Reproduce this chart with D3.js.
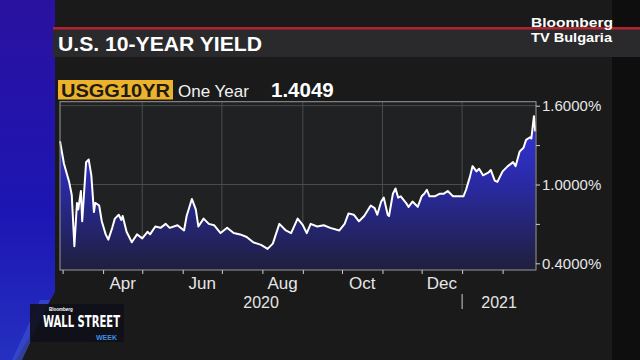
<!DOCTYPE html>
<html><head><meta charset="utf-8">
<script src="https://cdn.jsdelivr.net/npm/d3@7"></script>
<style>html,body{margin:0;padding:0;background:#191919;}svg{display:block;}</style>
</head><body>
<svg id="c" width="640" height="360"></svg>
<script>
const dates = ["2020-02-28","2020-03-02","2020-03-04","2020-03-06","2020-03-08","2020-03-10","2020-03-12","2020-03-13","2020-03-15","2020-03-16","2020-03-19","2020-03-21","2020-03-23","2020-03-25","2020-03-26","2020-03-29","2020-03-31","2020-04-03","2020-04-05","2020-04-08","2020-04-10","2020-04-13","2020-04-15","2020-04-16","2020-04-19","2020-04-23","2020-04-27","2020-05-01","2020-05-05","2020-05-07","2020-05-11","2020-05-15","2020-05-19","2020-05-22","2020-05-28","2020-06-02","2020-06-04","2020-06-08","2020-06-11","2020-06-13","2020-06-17","2020-06-21","2020-06-25","2020-06-30","2020-07-05","2020-07-10","2020-07-15","2020-07-20","2020-07-25","2020-07-31","2020-08-05","2020-08-09","2020-08-14","2020-08-19","2020-08-23","2020-08-28","2020-09-01","2020-09-04","2020-09-07","2020-09-12","2020-09-17","2020-09-22","2020-09-29","2020-10-03","2020-10-06","2020-10-10","2020-10-14","2020-10-18","2020-10-23","2020-10-26","2020-10-28","2020-10-31","2020-11-02","2020-11-05","2020-11-06","2020-11-09","2020-11-11","2020-11-13","2020-11-15","2020-11-19","2020-11-21","2020-11-24","2020-11-28","2020-12-01","2020-12-03","2020-12-05","2020-12-07","2020-12-11","2020-12-15","2020-12-18","2020-12-21","2020-12-25","2020-12-29","2021-01-02","2021-01-04","2021-01-07","2021-01-09","2021-01-12","2021-01-14","2021-01-17","2021-01-21","2021-01-23","2021-01-26","2021-01-28","2021-02-01","2021-02-05","2021-02-09","2021-02-11","2021-02-14","2021-02-17","2021-02-19","2021-02-22","2021-02-23","2021-02-25","2021-02-26"];
const yields = [1.33,1.16,1.09,1.02,0.92,0.53,0.86,0.81,0.95,0.72,1.17,1.19,1.07,0.79,0.86,0.84,0.72,0.62,0.58,0.67,0.74,0.77,0.73,0.76,0.64,0.56,0.62,0.59,0.64,0.62,0.68,0.67,0.70,0.67,0.69,0.65,0.76,0.89,0.81,0.68,0.74,0.70,0.69,0.63,0.67,0.63,0.62,0.60,0.56,0.54,0.51,0.55,0.70,0.65,0.63,0.74,0.69,0.63,0.70,0.68,0.69,0.67,0.65,0.70,0.78,0.77,0.72,0.76,0.84,0.82,0.77,0.87,0.90,0.77,0.76,0.93,0.97,0.90,0.91,0.86,0.83,0.87,0.83,0.91,0.93,0.96,0.91,0.91,0.93,0.93,0.95,0.91,0.91,0.91,0.96,1.06,1.14,1.10,1.12,1.07,1.09,1.11,1.03,1.02,1.10,1.14,1.17,1.14,1.25,1.28,1.34,1.36,1.35,1.52,1.4049];
const yTicks = [0.4, 0.7, 1.0, 1.3, 1.6];
const yLabelTicks = [0.4, 1.0, 1.6];
const monthLabels = ["Apr","Jun","Aug","Oct","Dec"];
const labelMonths = ["2020-04-01","2020-06-01","2020-08-01","2020-10-01","2020-12-01"];
const gridMonths = ["2020-05-01","2020-07-01","2020-09-01","2020-11-01","2021-01-01"];
const years = ["2020","2021"];
const title = "U.S. 10-YEAR YIELD";
const ticker = "USGG10YR", period = "One Year", lastValue = "1.4049";

const parse = d3.timeParse("%Y-%m-%d");
const data = dates.map((d,i)=>({date: parse(d), v: yields[i]}));

const svg = d3.select("#c");
const defs = svg.append("defs");
const FONT = "Liberation Sans, Arial, sans-serif";

// Background panels
svg.append("rect").attr("x",0).attr("y",0).attr("width",640).attr("height",360).attr("fill","#1a1a1a");
svg.append("rect").attr("x",612).attr("y",0).attr("width",28).attr("height",360).attr("fill","#0e0e0e");
const bg = defs.append("linearGradient").attr("id","blueStrip").attr("x1",0).attr("y1",0).attr("x2",0).attr("y2",1);
bg.append("stop").attr("offset","0%").attr("stop-color","#2a12a0");
bg.append("stop").attr("offset","60%").attr("stop-color","#1d16b4");
bg.append("stop").attr("offset","100%").attr("stop-color","#2530c0");
svg.append("polygon").attr("points","0,0 55,0 55,292 16,360 0,360").attr("fill","url(#blueStrip)");
svg.append("polygon").attr("points","40,300 50,300 22,360 12,360").attr("fill","#3a4ed0").attr("opacity",0.7);

// Title bar
svg.append("rect").attr("x",53).attr("y",28).attr("width",587).attr("height",29).attr("fill","#2a2a2c");
svg.append("rect").attr("x",53).attr("y",27).attr("width",587).attr("height",2.5).attr("fill","#b3222e");
svg.append("text").attr("x",58).attr("y",51).attr("fill","#ffffff")
  .attr("font-family",FONT).attr("font-weight","bold").attr("font-size",20)
  .attr("textLength",204).attr("lengthAdjust","spacingAndGlyphs").text(title);

// Logo
svg.append("text").attr("x",531).attr("y",27).attr("fill","#ffffff")
  .attr("font-family",FONT).attr("font-weight","bold").attr("font-size",13.5)
  .attr("textLength",82).attr("lengthAdjust","spacingAndGlyphs").text("Bloomberg");
svg.append("text").attr("x",531).attr("y",42).attr("fill","#ffffff")
  .attr("font-family",FONT).attr("font-weight","bold").attr("font-size",13.5)
  .attr("textLength",81).attr("lengthAdjust","spacingAndGlyphs").text("TV Bulgaria");

// Legend row
svg.append("rect").attr("x",58).attr("y",80).attr("width",115).attr("height",19.5).attr("fill","#ecb22c");
svg.append("text").attr("x",61).attr("y",97).attr("fill","#1e1a14")
  .attr("font-family",FONT).attr("font-weight","bold").attr("font-size",19)
  .attr("textLength",109).attr("lengthAdjust","spacingAndGlyphs").text(ticker);
svg.append("text").attr("x",178).attr("y",97).attr("fill","#f2f2f2")
  .attr("font-family",FONT).attr("font-size",17).text(period);
svg.append("text").attr("x",271).attr("y",97).attr("fill","#ffffff")
  .attr("font-family",FONT).attr("font-weight","bold").attr("font-size",20.5).text(lastValue);

// Scales
const plotL = 60, plotR = 536, plotT = 101.7, plotB = 270;
const x = d3.scaleTime().domain([parse("2020-02-28"), new Date(2021,1,26,14)]).range([plotL, plotR]);
const y = d3.scaleLinear().domain([0.4, 1.6]).range([263.3, 105.7]);

svg.append("rect").attr("x",plotL).attr("y",plotT).attr("width",plotR-plotL).attr("height",plotB-plotT).attr("fill","#202122");

// Gridlines
const grid = svg.append("g");
grid.selectAll("line.v").data(gridMonths.map(parse)).join("line")
  .attr("x1",d=>x(d)).attr("x2",d=>x(d)).attr("y1",plotT).attr("y2",plotB)
  .attr("stroke","#4b4c4e").attr("stroke-width",1);
grid.selectAll("line.h").data(yLabelTicks).join("line")
  .attr("x1",plotL).attr("x2",plotR).attr("y1",d=>y(d)).attr("y2",d=>y(d))
  .attr("stroke","#4b4c4e").attr("stroke-width",1);

// Area + line
const grad = defs.append("linearGradient").attr("id","areaGrad").attr("gradientUnits","userSpaceOnUse")
  .attr("x1",0).attr("y1",110).attr("x2",0).attr("y2",plotB);
grad.append("stop").attr("offset","0%").attr("stop-color","#3434e6");
grad.append("stop").attr("offset","45%").attr("stop-color","#2a2aa6");
grad.append("stop").attr("offset","100%").attr("stop-color","#1f1f3c");
const area = d3.area().x(d=>x(d.date)).y0(plotB).y1(d=>y(d.v));
const line = d3.line().x(d=>x(d.date)).y(d=>y(d.v));
svg.append("path").datum(data).attr("d",area).attr("fill","url(#areaGrad)");
svg.append("path").datum(data).attr("d",line).attr("fill","none").attr("stroke","#ffffff")
  .attr("stroke-width",2).attr("stroke-linejoin","round");

// Frame
svg.append("rect").attr("x",plotL).attr("y",plotT).attr("width",plotR-plotL).attr("height",plotB-plotT)
  .attr("fill","none").attr("stroke","#9a9a9a").attr("stroke-width",1);

// Right y axis
const yAxis = d3.axisRight(y).tickValues(yTicks).tickSize(4).tickPadding(2)
  .tickFormat(d => yLabelTicks.some(t=>Math.abs(t-d)<1e-9) ? d3.format(".4f")(d)+"%" : "");
const ya = svg.append("g").attr("transform",`translate(${plotR},0)`).call(yAxis);
ya.select(".domain").remove();
ya.selectAll("line").attr("stroke","#cfcfcf");
ya.selectAll("text").attr("fill","#e6e6e6").attr("font-size",15).attr("font-family",FONT);

// Bottom x axis (monthly ticks)
const months = d3.timeMonth.range(parse("2020-03-01"), parse("2021-03-01"));
const xAxis = d3.axisBottom(x).tickValues(months).tickSize(4).tickFormat("");
const xa = svg.append("g").attr("transform",`translate(0,${plotB})`).call(xAxis);
xa.select(".domain").remove();
xa.selectAll("line").attr("stroke","#cfcfcf");

// Month labels centered in month
svg.selectAll("text.month").data(labelMonths.map(parse)).join("text")
  .attr("x",d=>(x(d)+x(d3.timeMonth.offset(d,1)))/2).attr("y",289)
  .attr("text-anchor","middle").attr("fill","#e6e6e6").attr("font-size",17)
  .attr("font-family",FONT).text((d,i)=>monthLabels[i]);

// Year labels
const jan = parse("2021-01-01");
const yearPos = [(plotL + x(jan))/2, (x(jan)+plotR)/2];
svg.selectAll("text.year").data(years).join("text")
  .attr("x",(d,i)=>yearPos[i]).attr("y",308).attr("text-anchor","middle")
  .attr("fill","#e6e6e6").attr("font-size",16).attr("font-family",FONT).text(d=>d);
svg.append("line").attr("x1",x(jan)).attr("x2",x(jan)).attr("y1",294).attr("y2",309).attr("stroke","#cfcfcf").attr("stroke-width",1);

// Wall Street Week logo
const lg = svg.append("g");
lg.append("rect").attr("x",30).attr("y",304).attr("width",94).attr("height",38).attr("fill","#0f1018").attr("opacity",0.9);
lg.append("text").attr("x",49).attr("y",311).attr("fill","#ffffff").attr("font-size",4.5).attr("font-weight","bold")
  .attr("font-family",FONT).text("Bloomberg");
lg.append("text").attr("x",43).attr("y",327).attr("fill","#ffffff").attr("font-size",15.5).attr("font-weight","bold")
  .attr("font-family","Liberation Sans Narrow, DejaVu Sans Condensed, Arial, sans-serif")
  .attr("textLength",77).attr("lengthAdjust","spacingAndGlyphs").text("WALL STREET");
lg.append("text").attr("x",96).attr("y",339.5).attr("fill","#3d8fe6").attr("font-size",7.5).attr("font-weight","bold")
  .attr("font-family","Liberation Sans Narrow, Arial, sans-serif")
  .attr("textLength",21).attr("lengthAdjust","spacingAndGlyphs").text("WEEK");
</script>
</body></html>
